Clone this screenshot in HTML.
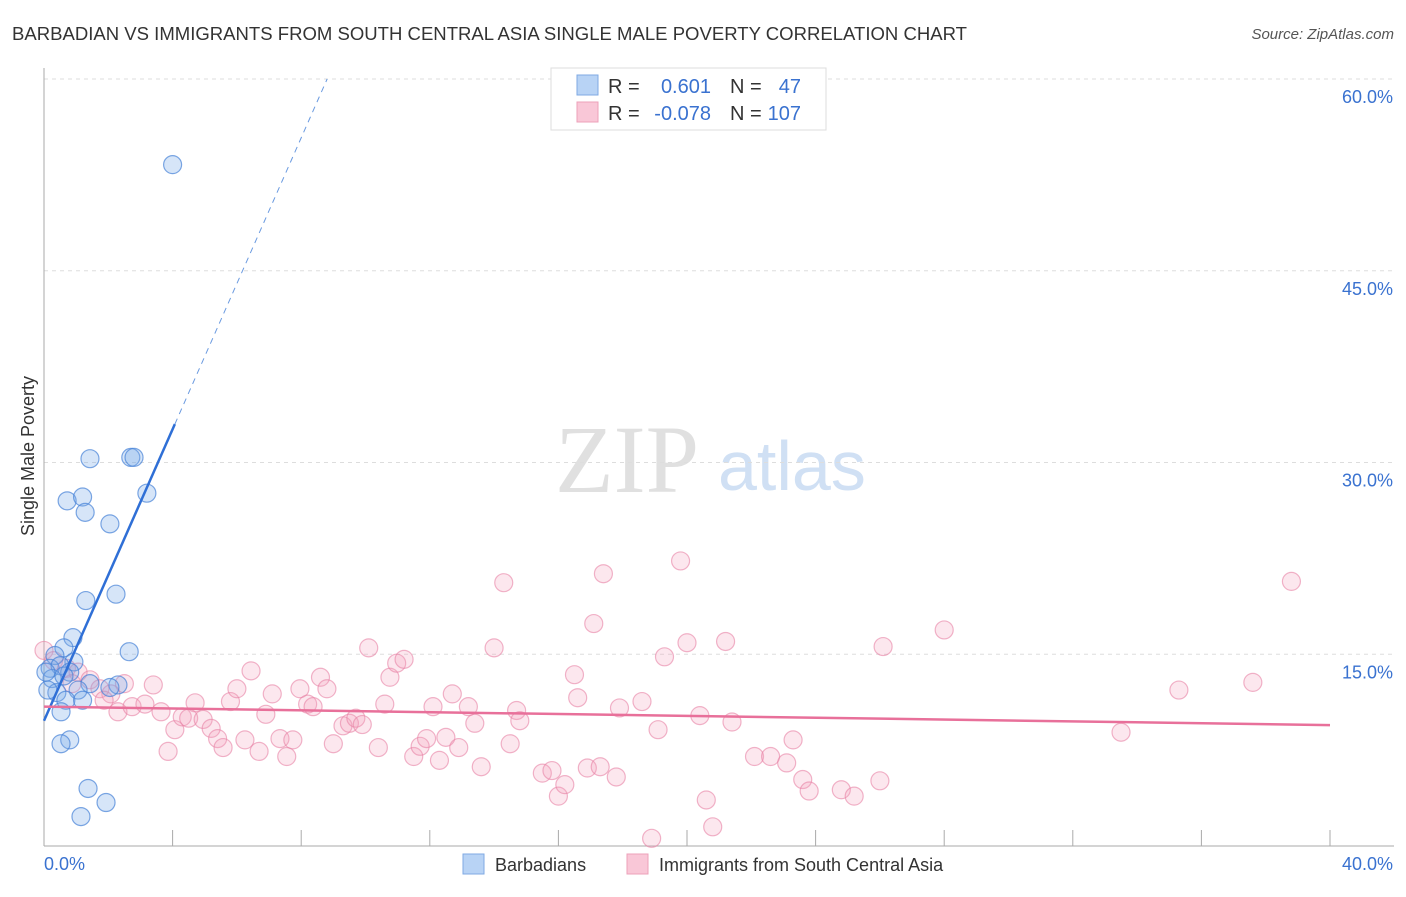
<!DOCTYPE html>
<html><head><meta charset="utf-8"><style>
body{margin:0;background:#fff;font-family:"Liberation Sans",sans-serif}
svg text{font-family:"Liberation Sans",sans-serif}
</style></head><body>
<svg id="chart" width="1406" height="892">
<text x="12" y="40" font-size="18" fill="#333" textLength="955" lengthAdjust="spacingAndGlyphs">BARBADIAN VS IMMIGRANTS FROM SOUTH CENTRAL ASIA SINGLE MALE POVERTY CORRELATION CHART</text>
<text x="1394" y="39" font-size="15" fill="#555" text-anchor="end" font-style="italic">Source: ZipAtlas.com</text>
<text x="555" y="492" font-size="96" fill="#e0e0e0" style="font-family:'Liberation Serif',serif">ZIP</text>
<text x="718" y="490" font-size="70" fill="#d0e0f4">atlas</text>
<g id="grid"></g>
<g id="axes"></g>
<g id="marks"></g>
<text transform="translate(34,456) rotate(-90)" font-size="18" fill="#333" text-anchor="middle">Single Male Poverty</text>
<g>
<rect x="551" y="68" width="275" height="62" fill="#fff" stroke="#ddd"/>
<rect x="577" y="75" width="21" height="20" fill="#b8d3f5" stroke="#7fa9e3"/>
<rect x="577" y="102" width="21" height="20" fill="#f9c7d7" stroke="#eda0ba"/>
<text x="608" y="93" font-size="20" fill="#333">R =</text>
<text x="711" y="93" font-size="20" fill="#3a72d0" text-anchor="end">0.601</text>
<text x="730" y="93" font-size="20" fill="#333">N =</text>
<text x="801" y="93" font-size="20" fill="#3a72d0" text-anchor="end">47</text>
<text x="608" y="120" font-size="20" fill="#333">R =</text>
<text x="711" y="120" font-size="20" fill="#3a72d0" text-anchor="end">-0.078</text>
<text x="730" y="120" font-size="20" fill="#333">N =</text>
<text x="801" y="120" font-size="20" fill="#3a72d0" text-anchor="end">107</text>
</g>
<g>
<rect x="463" y="854" width="21" height="20" fill="#b8d3f5" stroke="#7fa9e3"/>
<text x="495" y="871" font-size="18" fill="#333">Barbadians</text>
<rect x="627" y="854" width="21" height="20" fill="#f9c7d7" stroke="#eda0ba"/>
<text x="659" y="871" font-size="18" fill="#333">Immigrants from South Central Asia</text>
</g>
</svg>
<script>
const yTicks=[15,30,45,60];
const yTickLabels=["15.0%","30.0%","45.0%","60.0%"];
const xTickCount=10;
const blueX=[4.0,1.43,2.7,2.8,3.2,0.72,1.2,1.28,2.05,2.24,1.3,0.9,2.65,0.62,0.34,0.93,0.19,0.5,0.8,0.25,1.43,2.3,2.05,1.06,0.4,0.12,0.68,1.2,0.53,0.8,0.53,1.37,1.93,1.15,0.06,0.62];
const blueY=[53.3,30.3,30.4,30.4,27.6,27.0,27.3,26.1,25.2,19.7,19.2,16.3,15.2,15.5,14.9,14.4,13.9,14.1,13.6,13.1,12.7,12.6,12.4,12.2,12.0,12.2,11.4,11.4,10.5,8.3,8.0,4.5,3.4,2.3,13.6,13.3];
const pinkX=[0,0.3,0.7,1.06,1.43,0.87,1.74,2.5,3.4,2.08,1.87,2.3,2.74,3.14,3.64,3.86,4.07,4.3,4.7,4.5,4.95,5.2,5.4,5.57,5.8,6.0,6.25,6.44,6.69,6.9,7.1,7.34,7.55,7.74,7.96,8.2,8.37,8.6,8.8,9.0,9.3,9.5,9.7,9.9,10.1,10.4,10.6,10.76,10.97,11.2,11.5,11.7,11.9,12.1,12.3,12.5,12.7,12.9,13.2,13.4,13.6,14.0,14.3,14.5,14.7,14.8,15.5,15.8,16.0,16.2,16.5,16.6,16.9,17.1,17.3,17.4,17.8,17.9,18.6,18.9,19.1,19.3,19.8,20.0,20.4,20.6,20.8,21.2,21.4,22.1,22.6,23.1,23.3,23.6,23.8,24.8,25.2,26.0,26.1,28.0,33.5,35.3,37.6,38.8];
const pinkY=[15.3,14.5,13.9,13.6,13.0,12.7,12.3,12.7,12.6,11.9,11.4,10.5,10.9,11.1,10.5,7.4,9.1,10.1,11.2,10.0,9.9,9.2,8.4,7.7,11.3,12.3,8.3,13.7,7.4,10.3,11.9,8.4,7.0,8.3,12.3,11.1,10.9,13.2,12.3,8.0,9.4,9.6,10.0,9.5,15.5,7.7,11.1,13.2,14.3,14.6,7.0,7.8,8.4,10.9,6.7,8.5,11.9,7.7,10.9,9.6,6.2,15.5,20.6,8.0,10.6,9.8,5.7,5.9,3.9,4.8,13.4,11.6,6.1,17.4,6.2,21.3,5.4,10.8,11.3,0.6,9.1,14.8,22.3,15.9,10.2,3.6,1.5,16.0,9.7,7.0,7.0,6.5,8.3,5.2,4.3,4.4,3.9,5.1,15.6,16.9,8.9,12.2,12.8,20.7];
const blueTrend=[9.8,5.7];   // intercept, slope
const pinkTrend=[10.9,-0.036];
const X0=44,X1=1330,Y0=846,Y60=79;
const sx=v=>X0+(X1-X0)*v/40;
const sy=v=>Y0-(Y0-Y60)*v/60;
const NS="http://www.w3.org/2000/svg";
function mk(tag,attrs,parent){const e=document.createElementNS(NS,tag);for(const k in attrs)e.setAttribute(k,attrs[k]);parent.appendChild(e);return e;}
const grid=document.getElementById('grid'),axes=document.getElementById('axes'),marks=document.getElementById('marks');
yTicks.forEach((t,i)=>{
  const l=mk('line',{x1:X0,x2:1394,y1:sy(t),y2:sy(t),stroke:'#ddd','stroke-dasharray':'4,4'},grid);
  
  
  const tx=mk('text',{x:1393,y:sy(t)+24,'font-size':18,fill:'#3a72d0','text-anchor':'end'},grid);
  tx.textContent=yTickLabels[i];
  
  
});
const ya=mk('line',{x1:X0,x2:X0,y1:68,y2:Y0,stroke:'#aaa'},axes);


const xa=mk('line',{x1:X0,x2:1394,y1:Y0,y2:Y0,stroke:'#aaa'},axes);


for(let i=1;i<=xTickCount;i++){
  const v=40*i/xTickCount;
  const tk=mk('line',{x1:sx(v),x2:sx(v),y1:830,y2:Y0,stroke:'#aaa'},axes);
  
  
}
const xl0=mk('text',{x:44,y:870,'font-size':18,fill:'#3a72d0'},axes);xl0.textContent='0.0%';


const xl1=mk('text',{x:1393,y:870,'font-size':18,fill:'#3a72d0','text-anchor':'end'},axes);xl1.textContent='40.0%';


pinkX.forEach((x,i)=>{
  const c=mk('circle',{cx:sx(x),cy:sy(pinkY[i]),r:9,fill:'rgba(243,160,189,0.25)',stroke:'rgba(232,130,165,0.6)','stroke-width':1.2},marks);
  
  
});
blueX.forEach((x,i)=>{
  const c=mk('circle',{cx:sx(x),cy:sy(blueY[i]),r:9,fill:'rgba(120,168,232,0.3)',stroke:'rgba(70,130,215,0.7)','stroke-width':1.2},marks);
  
  
});
const bx1=4.07,bx2=(60-blueTrend[0])/blueTrend[1];
const bl=mk('line',{x1:sx(0),y1:sy(blueTrend[0]),x2:sx(bx1),y2:sy(blueTrend[0]+blueTrend[1]*bx1),stroke:'#2f6fd6','stroke-width':2.5},marks);


const bd=mk('line',{x1:sx(bx1),y1:sy(blueTrend[0]+blueTrend[1]*bx1),x2:sx(bx2),y2:sy(60),stroke:'#6a9ae0','stroke-width':1,'stroke-dasharray':'6,5'},marks);


const pl=mk('line',{x1:sx(0),y1:sy(pinkTrend[0]),x2:sx(40),y2:sy(pinkTrend[0]+pinkTrend[1]*40),stroke:'#e8709a','stroke-width':2.5},marks);


</script>
</body></html>
